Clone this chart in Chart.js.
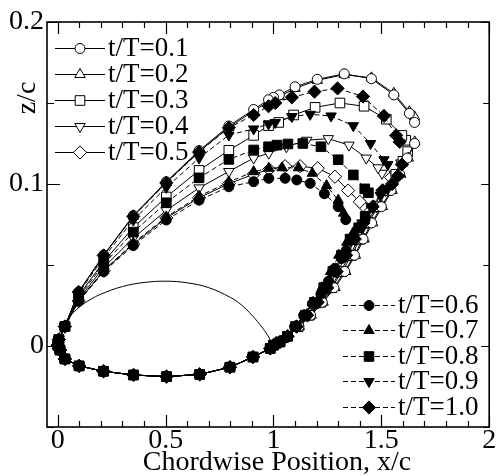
<!DOCTYPE html>
<html>
<head>
<meta charset="utf-8">
<script src="https://cdn.jsdelivr.net/npm/chart.js@4.4.0/dist/chart.umd.min.js"></script>
<style>
  html, body { margin: 0; padding: 0; background: #fff; }
  #wrap { width: 497px; height: 476px; }
</style>
</head>
<body>
<div id="wrap"><canvas id="chart" width="497" height="476"></canvas></div>
<script>
// legend labels
const labels = ["t/T=0.1", "t/T=0.2", "t/T=0.3", "t/T=0.4", "t/T=0.5",
                "t/T=0.6", "t/T=0.7", "t/T=0.8", "t/T=0.9", "t/T=1.0"];

// upper branch of each curve, [x/c, z/c], from the right tip back to the leading edge
const up01 = [[1.654,0.138],[1.63,0.1436],[1.558,0.155],[1.454,0.165],[1.328,0.168],[1.203,0.1646],[1.10,0.160],[1.027,0.155],[1.0,0.1535],[0.977,0.152],[0.908,0.146],[0.793,0.1358],[0.655,0.1206],[0.503,0.1014],[0.35,0.0805],[0.213,0.0562],[0.097,0.0335],[0.033,0.012]];
const up02 = [[1.654,0.1415],[1.63,0.1446],[1.558,0.156],[1.454,0.1655],[1.328,0.1675],[1.203,0.164],[1.10,0.159],[1.027,0.154],[1.0,0.1525],[0.977,0.151],[0.908,0.145],[0.793,0.135],[0.655,0.120],[0.503,0.1009],[0.35,0.0801],[0.213,0.056],[0.097,0.0334],[0.033,0.012]];
const up03 = [[1.613,0.127],[1.595,0.130],[1.523,0.140],[1.42,0.148],[1.308,0.150],[1.193,0.1473],[1.093,0.1426],[1.024,0.138],[0.977,0.136],[0.908,0.130],[0.793,0.1208],[0.655,0.1084],[0.503,0.092],[0.35,0.0731],[0.213,0.0521],[0.097,0.0311],[0.033,0.012]];
const up04 = [[1.503,0.1066],[1.485,0.110],[1.43,0.116],[1.35,0.124],[1.254,0.128],[1.154,0.127],[1.06,0.123],[0.978,0.119],[0.908,0.116],[0.793,0.1077],[0.655,0.0976],[0.503,0.0837],[0.35,0.0666],[0.213,0.0485],[0.097,0.029],[0.033,0.012]];
const up05 = [[1.415,0.087],[1.40,0.089],[1.346,0.096],[1.285,0.1045],[1.205,0.1097],[1.123,0.111],[1.054,0.111],[0.98,0.109],[0.908,0.106],[0.793,0.1002],[0.655,0.0915],[0.503,0.079],[0.35,0.0629],[0.213,0.0464],[0.097,0.0278],[0.033,0.012]];
const up06 = [[1.335,0.078],[1.30,0.086],[1.236,0.094],[1.17,0.1004],[1.108,0.1025],[1.054,0.1035],[0.978,0.1035],[0.908,0.1014],[0.793,0.0983],[0.655,0.090],[0.503,0.0778],[0.35,0.062],[0.213,0.0459],[0.097,0.0275],[0.033,0.012]];
const up07 = [[1.325,0.082],[1.30,0.090],[1.246,0.099],[1.18,0.1066],[1.116,0.110],[1.04,0.110],[0.978,0.1097],[0.908,0.1076],[0.793,0.1013],[0.655,0.0924],[0.503,0.0797],[0.35,0.0635],[0.213,0.0467],[0.097,0.028],[0.033,0.012]];
const up08 = [[1.44,0.0946],[1.423,0.097],[1.37,0.1056],[1.30,0.115],[1.22,0.123],[1.136,0.125],[1.067,0.1247],[1.016,0.124],[0.977,0.123],[0.908,0.121],[0.793,0.1152],[0.655,0.1038],[0.503,0.0884],[0.35,0.0703],[0.213,0.0505],[0.097,0.0302],[0.033,0.012]];
const up09 = [[1.53,0.112],[1.512,0.115],[1.45,0.125],[1.37,0.136],[1.267,0.142],[1.17,0.143],[1.085,0.1416],[1.008,0.138],[0.977,0.137],[0.908,0.134],[0.793,0.1302],[0.655,0.116],[0.503,0.0979],[0.35,0.0777],[0.213,0.0547],[0.097,0.0326],[0.033,0.012]];
const up10 = [[1.585,0.126],[1.569,0.130],[1.512,0.142],[1.415,0.154],[1.297,0.159],[1.19,0.157],[1.085,0.1535],[1.008,0.150],[0.977,0.148],[0.908,0.1426],[0.793,0.1347],[0.655,0.1197],[0.503,0.1007],[0.35,0.080],[0.213,0.0559],[0.097,0.0333],[0.033,0.012]];

// lower surface, shared by all curves (leading edge -> trailing edge)
const lowerPath = [[0.005,0.004],[0.0,0.0005],[0.01,-0.0025],[0.033,-0.008],[0.099,-0.0123],[0.212,-0.0156],[0.351,-0.0179],[0.504,-0.0189],[0.658,-0.0175],[0.798,-0.0131],[0.905,-0.0068],[0.985,-0.0015],[1.0,0.0005],[1.03,0.0025],[1.065,0.006]];

// rising branch behind the trailing edge
const rt01 = [[1.118,0.012],[1.172,0.019],[1.226,0.027],[1.28,0.036],[1.33,0.046],[1.375,0.056],[1.415,0.066],[1.455,0.076],[1.50,0.086],[1.545,0.096],[1.585,0.106],[1.62,0.116],[1.654,0.125]];
const rt02 = [[1.12,0.012],[1.175,0.019],[1.23,0.027],[1.285,0.036],[1.335,0.046],[1.38,0.056],[1.42,0.066],[1.46,0.076],[1.505,0.086],[1.55,0.096],[1.59,0.106],[1.625,0.116],[1.655,0.126]];
const rt03 = [[1.115,0.012],[1.167,0.019],[1.22,0.027],[1.27,0.036],[1.318,0.046],[1.362,0.056],[1.402,0.066],[1.44,0.076],[1.483,0.086],[1.527,0.096],[1.567,0.106],[1.60,0.114],[1.622,0.120]];
const rt04 = [[1.112,0.012],[1.164,0.019],[1.215,0.027],[1.265,0.036],[1.31,0.046],[1.354,0.056],[1.395,0.066],[1.433,0.076],[1.477,0.086],[1.52,0.096],[1.56,0.106],[1.59,0.113]];
const rt05 = [[1.108,0.012],[1.158,0.019],[1.207,0.027],[1.252,0.036],[1.296,0.046],[1.34,0.056],[1.38,0.066],[1.42,0.076],[1.465,0.086],[1.508,0.096],[1.545,0.104]];
const rt06 = [[1.098,0.012],[1.14,0.019],[1.18,0.026],[1.22,0.032],[1.255,0.040],[1.285,0.048],[1.315,0.054],[1.337,0.059]];
const rt07 = [[1.10,0.012],[1.142,0.019],[1.184,0.027],[1.225,0.036],[1.265,0.046],[1.303,0.056],[1.34,0.064],[1.37,0.070]];
const rt08 = [[1.102,0.012],[1.147,0.019],[1.19,0.027],[1.233,0.036],[1.275,0.046],[1.315,0.056],[1.355,0.066],[1.395,0.073],[1.425,0.080]];
const rt09 = [[1.105,0.012],[1.152,0.019],[1.198,0.027],[1.243,0.036],[1.285,0.046],[1.327,0.056],[1.368,0.066],[1.41,0.076],[1.452,0.086],[1.495,0.093],[1.53,0.097]];
const rt10 = [[1.107,0.012],[1.156,0.019],[1.205,0.027],[1.25,0.036],[1.293,0.046],[1.337,0.056],[1.377,0.066],[1.417,0.076],[1.46,0.086],[1.505,0.096],[1.55,0.100],[1.577,0.105],[1.595,0.112]];

// thin arc over the chord (no markers)
const arcX = [0, 0.005, 0.02, 0.05, 0.1, 0.15, 0.2, 0.3, 0.4, 0.5, 0.6, 0.7, 0.8, 0.85, 0.9, 0.95, 0.98, 0.995];
const arcZ = [0, 0.0057, 0.0112, 0.0174, 0.024, 0.0286, 0.032, 0.0367, 0.0392, 0.040, 0.039, 0.036, 0.030, 0.0255, 0.019, 0.011, 0.005, 0.001];

// axis ticks
const xMajor = [0, 0.5, 1, 1.5, 2];
const xMajorLabels = ["0", "0.5", "1", "1.5", "2"];
const xMinor = [0.1, 0.2, 0.3, 0.4, 0.6, 0.7, 0.8, 0.9, 1.1, 1.2, 1.3, 1.4, 1.6, 1.7, 1.8, 1.9];
const yMajor = [0, 0.1, 0.2];
const yMajorLabels = ["0", "0.1", "0.2"];
const yMinor = [-0.05, 0.05, 0.15];

const uppers = [up01, up02, up03, up04, up05, up06, up07, up08, up09, up10];
const rights = [rt01, rt02, rt03, rt04, rt05, rt06, rt07, rt08, rt09, rt10];

// marker look for each series
const shapes = ["circle", "triangle", "rect", "triangle", "rectRot", "circle", "triangle", "rect", "triangle", "rectRot"];
const rotations = [0, 0, 0, 180, 0, 0, 0, 0, 180, 0];
const radii = { circle: 5, triangle: 6, rect: 6.8, rectRot: 6.6 };

const FONT = "'Liberation Serif', 'Times New Roman', serif";

const datasets = labels.map((lab, i) => {
    const filled = i >= 5;
    const pts = uppers[i].concat(lowerPath, rights[i]).map(([x, y]) => ({ x, y }));
    return {
        label: lab,
        data: pts,
        order: filled ? 0 : 1,   // filled markers end up on top
        showLine: true,
        borderColor: "#000",
        borderWidth: 1,
        borderDash: filled ? [5, 3] : [],
        pointStyle: shapes[i],
        pointRotation: rotations[i],
        pointRadius: radii[shapes[i]],
        pointHoverRadius: radii[shapes[i]],
        pointBackgroundColor: filled ? "#000" : "#fff",
        pointBorderColor: "#000",
        pointBorderWidth: 1,
        tension: 0
    };
});

datasets.push({
    label: "arc",
    data: arcX.map((x, i) => ({ x, y: arcZ[i] })),
    order: 2,
    showLine: true,
    borderColor: "#000",
    borderWidth: 1,
    pointRadius: 0,
    tension: 0.4
});

function marker(ctx, i, x, y) {
    const filled = i >= 5;
    ctx.save();
    ctx.fillStyle = filled ? "#000" : "#fff";
    ctx.strokeStyle = "#000";
    ctx.lineWidth = 1;
    ctx.setLineDash([]);
    Chart.helpers.drawPoint(ctx, {
        pointStyle: shapes[i],
        rotation: rotations[i],
        radius: radii[shapes[i]],
        borderWidth: 1
    }, x, y);
    ctx.restore();
}

// frame, inward ticks, tick labels, axis titles and the two legends
const decor = {
    id: "decor",
    afterDraw(chart) {
        const { ctx, chartArea: a, scales: { x, y } } = chart;
        ctx.save();
        ctx.strokeStyle = "#000";
        ctx.fillStyle = "#000";

        ctx.lineWidth = 1.2;
        const vtick = (v, len) => {
            const px = Math.round(x.getPixelForValue(v)) + 0.5;
            ctx.beginPath();
            ctx.moveTo(px, a.bottom); ctx.lineTo(px, a.bottom - len);
            ctx.moveTo(px, a.top); ctx.lineTo(px, a.top + len);
            ctx.stroke();
        };
        const htick = (v, lenL, lenR) => {
            const py = Math.round(y.getPixelForValue(v)) + 0.5;
            ctx.beginPath();
            ctx.moveTo(a.left, py); ctx.lineTo(a.left + lenL, py);
            ctx.moveTo(a.right, py); ctx.lineTo(a.right - lenR, py);
            ctx.stroke();
        };
        xMajor.forEach(v => vtick(v, 12));
        xMinor.forEach(v => vtick(v, 6));
        yMajor.forEach(v => htick(v, 13, 8));
        yMinor.forEach(v => htick(v, 7, 6));

        ctx.lineWidth = 1.6;
        ctx.strokeRect(a.left, a.top, a.right - a.left, a.bottom - a.top);

        ctx.font = "28px " + FONT;
        ctx.textAlign = "center";
        ctx.textBaseline = "middle";
        xMajor.forEach((v, i) => ctx.fillText(xMajorLabels[i], x.getPixelForValue(v), a.bottom + 14));
        ctx.textAlign = "right";
        yMajor.forEach((v, i) => ctx.fillText(yMajorLabels[i], a.left - 3, y.getPixelForValue(v)));

        // axis titles
        ctx.textAlign = "center";
        ctx.textBaseline = "alphabetic";
        ctx.fillText("Chordwise Position, x/c", 277, 470);
        ctx.save();
        ctx.translate(35, 98);
        ctx.rotate(-Math.PI / 2);
        ctx.fillText("z/c", 0, 0);
        ctx.restore();

        // legends
        ctx.font = "27px " + FONT;
        ctx.textAlign = "left";
        ctx.textBaseline = "middle";
        ctx.lineWidth = 1;
        const rowsTop = [48, 74, 100, 126, 152];
        const rowsBottom = [305, 330, 356, 381, 407];
        labels.forEach((lab, i) => {
            const dashed = i >= 5;
            const ly = dashed ? rowsBottom[i - 5] : rowsTop[i];
            const x0 = dashed ? 343 : 55, x1 = dashed ? 395 : 105;
            const mx = (x0 + x1) / 2;
            ctx.setLineDash(dashed ? [5, 3] : []);
            ctx.beginPath();
            ctx.moveTo(x0, ly + 0.5); ctx.lineTo(x1, ly + 0.5);
            ctx.stroke();
            ctx.setLineDash([]);
            marker(ctx, i, mx, ly + 0.5);
            ctx.fillStyle = "#000";
            ctx.fillText(lab, x1 + 3, ly + 1);
        });
        ctx.restore();
    }
};

new Chart(document.getElementById("chart"), {
    type: "scatter",
    data: { datasets },
    options: {
        responsive: false,
        animation: false,
        devicePixelRatio: 1,
        layout: { padding: { left: 47, right: 5, top: 22, bottom: 49 } },
        plugins: { legend: { display: false }, tooltip: { enabled: false } },
        scales: {
            x: { type: "linear", min: -0.05, max: 2, display: false },
            y: { type: "linear", min: -0.05, max: 0.2, display: false }
        }
    },
    plugins: [decor]
});
</script>
</body>
</html>
